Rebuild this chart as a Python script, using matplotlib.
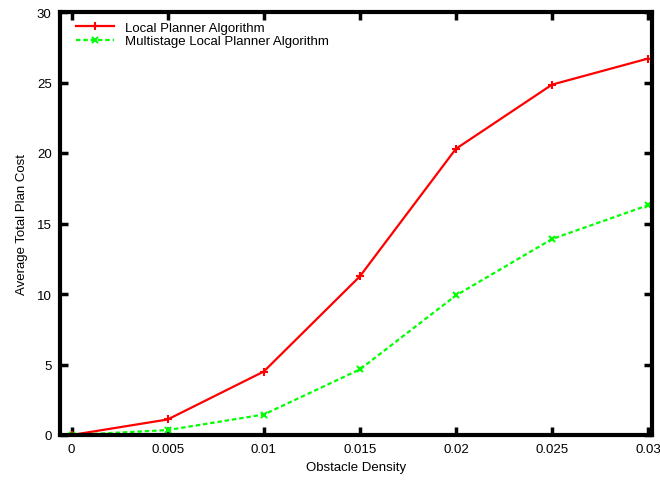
import matplotlib
matplotlib.use("Agg")
import matplotlib.pyplot as plt

x = [0, 0.005, 0.01, 0.015, 0.02, 0.025, 0.03]
local = [0.0, 1.1, 4.5, 11.25, 20.3, 24.85, 26.7]
multi = [0.0, 0.35, 1.45, 4.65, 9.9, 13.9, 16.3]
xticks = [0, 0.005, 0.01, 0.015, 0.02, 0.025, 0.03]
xticklabels = ["0", "0.005", "0.01", "0.015", "0.02", "0.025", "0.03"]
yticks = [0, 5, 10, 15, 20, 25, 30]

plt.rcParams['font.family'] = ['Liberation Sans', 'DejaVu Sans']
fig = plt.figure(figsize=(6.6, 4.81), dpi=100)
ax = fig.add_axes([60/660, 45/481, 592/660, 423/481])

ax.plot(x, local, color='#ff0000', lw=1.6, marker='+', ms=6, mew=1.5,
        label='Local Planner Algorithm')
ax.plot(x, multi, color='#00ff00', lw=1.6, ls=(0, (2, 1.3)), marker='x', ms=5, mew=1.5,
        label='Multistage Local Planner Algorithm')

ax.set_xlim(-0.0006, 0.0302)
ax.set_ylim(0, 30)
ax.set_xticks(xticks)
ax.set_xticklabels(xticklabels)
ax.set_yticks(yticks)
ax.tick_params(direction='in', top=True, right=True, length=6, width=2.5,
               labelsize=9.5, pad=6)
for s in ax.spines.values():
    s.set_linewidth(3)
ax.set_xlabel('Obstacle Density', fontsize=9.5, labelpad=4)
ax.set_ylabel('Average Total Plan Cost', fontsize=9.5, labelpad=6)

leg = ax.legend(loc='upper left', frameon=False, fontsize=9.5, handlelength=2.9,
                borderaxespad=0.0, handletextpad=0.8, labelspacing=0.1,
                bbox_to_anchor=(0.018, 0.99))

fig.savefig('out.png', dpi=100)
